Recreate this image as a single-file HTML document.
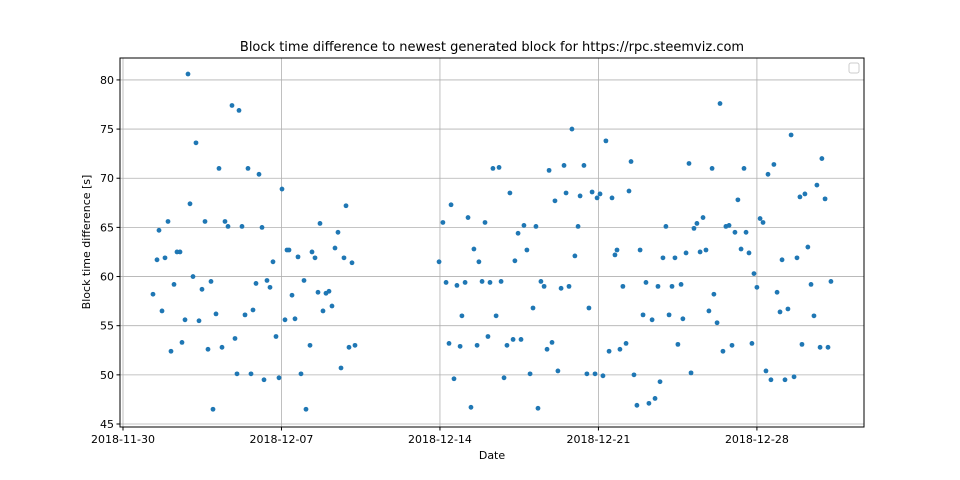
<!DOCTYPE html>
<html><head><meta charset="utf-8"><style>
body{margin:0;background:#fff;}
svg{display:block;font-family:"DejaVu Sans","Liberation Sans",sans-serif;}
</style></head><body>
<svg id="chart" width="960" height="480" viewBox="0 0 960 480">
<rect x="0" y="0" width="960" height="480" fill="#fff"/>
<text x="492" y="51" font-size="13" text-anchor="middle" fill="#000">Block time difference to newest generated block for https://rpc.steemviz.com</text>
<g id="grid"></g>
<g id="points"></g>
<rect x="120" y="58" width="744" height="369" fill="none" stroke="#000" stroke-width="1"/>
<g id="axes"></g>
<rect x="849" y="63" width="10" height="10" rx="2" fill="#fff" stroke="#ccc"/>
<text x="492" y="459" font-size="11" text-anchor="middle">Date</text>
<text transform="translate(90,242) rotate(-90)" font-size="11" text-anchor="middle">Block time difference [s]</text>
</svg>
<script>
const xTickDays=[0,7,14,21,28];
const xTickLabels=["2018-11-30","2018-12-07","2018-12-14","2018-12-21","2018-12-28"];
const yTicks=[45,50,55,60,65,70,75,80];
const dayOffsets=[1.325,1.502,1.590,1.723,1.855,1.988,2.120,2.253,2.385,2.518,2.606,2.739,2.871,2.959,3.092,3.224,3.357,3.489,3.622,3.754,3.887,3.975,4.108,4.240,4.373,4.505,4.638,4.814,4.947,5.035,5.124,5.256,5.389,5.521,5.654,5.742,5.875,6.007,6.140,6.228,6.360,6.493,6.625,6.758,6.890,7.023,7.155,7.244,7.332,7.465,7.597,7.730,7.862,7.995,8.083,8.260,8.348,8.481,8.613,8.701,8.834,8.966,9.099,9.231,9.364,9.496,9.629,9.761,9.850,9.982,10.115,10.247,
13.96,14.13,14.27,14.40,14.49,14.62,14.75,14.89,14.97,15.11,15.24,15.37,15.50,15.64,15.72,15.86,15.99,16.12,16.21,16.34,16.48,16.61,16.70,16.83,16.96,17.09,17.23,17.31,17.45,17.58,17.71,17.84,17.98,18.11,18.24,18.33,18.46,18.60,18.73,18.82,18.95,19.08,19.21,19.35,19.48,19.57,19.70,19.83,19.96,20.10,20.19,20.36,20.49,20.58,20.72,20.85,20.94,21.07,21.20,21.33,21.47,21.60,21.73,21.82,21.95,22.08,22.22,22.35,22.44,22.57,22.70,22.84,22.97,23.10,23.23,23.37,23.50,23.63,23.72,23.85,23.98,24.12,24.25,24.38,24.51,24.65,24.73,24.87,25.00,25.09,25.22,25.35,25.49,25.62,25.75,25.88,26.02,26.10,26.24,26.37,26.50,26.63,26.77,26.90,27.03,27.16,27.30,27.43,27.52,27.65,27.78,27.87,28.00,28.14,28.27,28.40,28.49,28.62,28.75,28.89,29.02,29.11,29.24,29.37,29.51,29.64,29.77,29.90,29.99,30.12,30.25,30.39,30.52,30.65,30.79,30.87,31.01,31.14,31.27];
const blockDiffs=[58.2,61.7,64.7,56.5,61.9,65.6,52.4,59.2,62.5,62.5,53.3,55.6,80.6,67.4,60.0,73.6,55.5,58.7,65.6,52.6,59.5,46.5,56.2,71.0,52.8,65.6,65.1,77.4,53.7,50.1,76.9,65.1,56.1,71.0,50.1,56.6,59.3,70.4,65.0,49.5,59.6,58.9,61.5,53.9,49.7,68.9,55.6,62.7,62.7,58.1,55.7,62.0,50.1,59.6,46.5,53.0,62.5,61.9,58.4,65.4,56.5,58.3,58.5,57.0,62.9,64.5,50.7,61.9,67.2,52.8,61.4,53.0,
61.5,65.5,59.4,53.2,67.3,49.6,59.1,52.9,56.0,59.4,66.0,46.7,62.8,53.0,61.5,59.5,65.5,53.9,59.4,71.0,56.0,71.1,59.5,49.7,53.0,68.5,53.6,61.6,64.4,53.6,65.2,62.7,50.1,56.8,65.1,46.6,59.5,59.0,52.6,70.8,53.3,67.7,50.4,58.8,71.3,68.5,59.0,75.0,62.1,65.1,68.2,71.3,50.1,56.8,68.6,50.1,68.0,68.4,49.9,73.8,52.4,68.0,62.2,62.7,52.6,59.0,53.2,68.7,71.7,50.0,46.9,62.7,56.1,59.4,47.1,55.6,47.6,59.0,49.3,61.9,65.1,56.1,59.0,61.9,53.1,59.2,55.7,62.4,71.5,50.2,64.9,65.4,62.5,66.0,62.7,56.5,71.0,58.2,55.3,77.6,52.4,65.1,65.2,53.0,64.5,67.8,62.8,71.0,64.5,62.4,53.2,60.3,58.9,65.9,65.5,50.4,70.4,49.5,71.4,58.4,56.4,61.7,49.5,56.7,74.4,49.8,61.9,68.1,53.1,68.4,63.0,59.2,56.0,69.3,52.8,72.0,67.9,52.8,59.5];
const NS="http://www.w3.org/2000/svg";
const X0=120,X1=864,Y0=58,Y1=427;
const xMin=-0.1325,xMax=32.73,yMin=44.695,yMax=82.23;
function xs(d){return X0+(d-xMin)/(xMax-xMin)*(X1-X0);}
function ys(v){return Y1-(v-yMin)/(yMax-yMin)*(Y1-Y0);}
function mk(tag,attrs,parent){const e=document.createElementNS(NS,tag);for(const k in attrs)e.setAttribute(k,attrs[k]);parent.appendChild(e);return e;}
const grid=document.getElementById('grid'),axes=document.getElementById('axes'),pts=document.getElementById('points');
yTicks.forEach(v=>{const y=ys(v);
 const g=mk('line',{x1:X0,x2:X1,y1:y,y2:y,stroke:'#b0b0b0','stroke-width':0.8},grid);
 
 
 mk('line',{x1:X0-3.5,x2:X0,y1:y,y2:y,stroke:'#000'},axes);
 const t=mk('text',{x:X0-6,y:y+4,'font-size':11,'text-anchor':'end'},axes);
 
 
 t.textContent=v;});
xTickDays.forEach((d,i)=>{const x=xs(d);
 const g=mk('line',{x1:x,x2:x,y1:Y0,y2:Y1,stroke:'#b0b0b0','stroke-width':0.8},grid);
 
 
 mk('line',{x1:x,x2:x,y1:Y1,y2:Y1+3.5,stroke:'#000'},axes);
 const t=mk('text',{x:x,y:Y1+16,'font-size':11,'text-anchor':'middle'},axes);
 
 
 t.textContent=xTickLabels[i];});
dayOffsets.forEach((d,i)=>{
 const c=mk('circle',{cx:xs(d),cy:ys(blockDiffs[i]),r:2.4,fill:'#1f77b4'},pts);
 
 });
</script>
</body></html>
